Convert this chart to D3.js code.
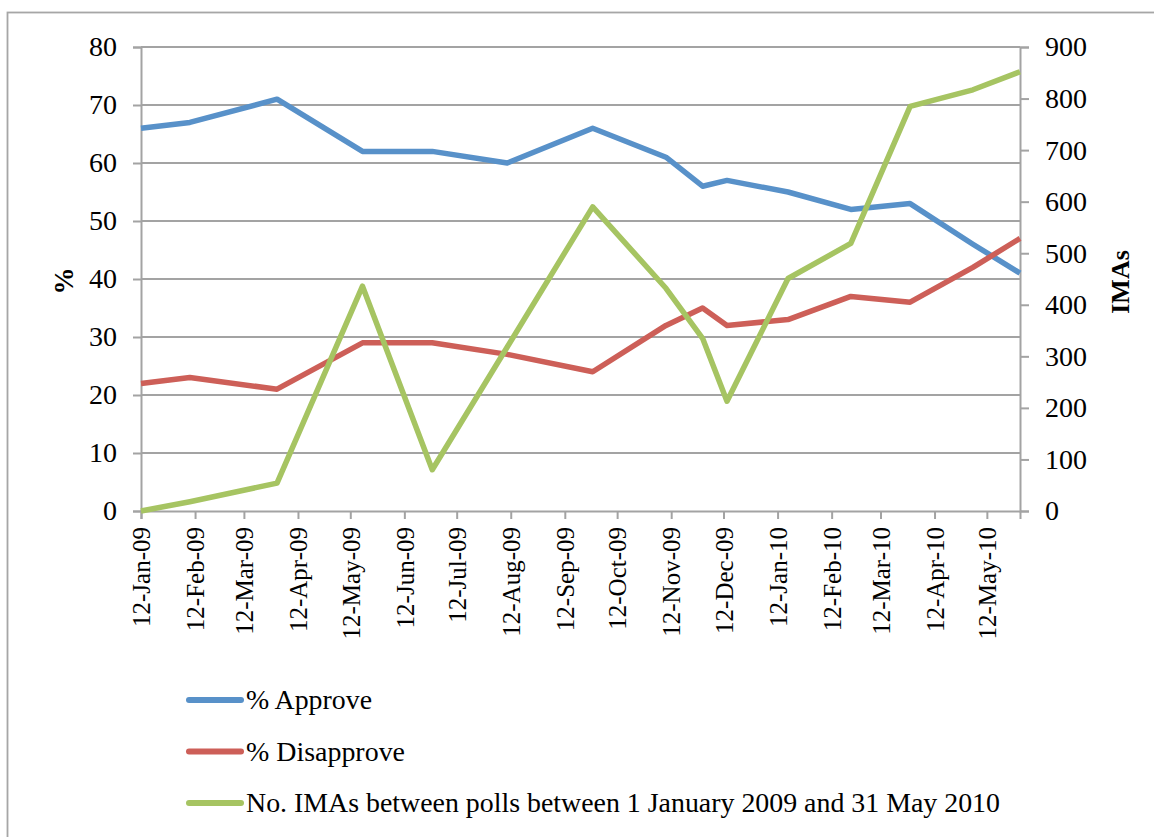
<!DOCTYPE html>
<html>
<head>
<meta charset="utf-8">
<script src="https://cdn.jsdelivr.net/npm/d3@7"></script>
<style>
  html, body { margin: 0; padding: 0; background: #fff; }
  svg { display: block; font-family: "Liberation Serif", "Times New Roman", serif; }
</style>
</head>
<body>
<svg id="chart" width="1154" height="837"></svg>
<script>
// Poll dates (shared by all three series)
const pollDates = [
  "2009-01-12", "2009-02-09", "2009-03-31", "2009-05-19", "2009-06-28",
  "2009-08-10", "2009-09-28", "2009-11-09", "2009-11-30", "2009-12-14",
  "2010-01-18", "2010-02-23", "2010-03-29", "2010-05-04", "2010-05-31"
];
// % approve / % disapprove (left axis)
const approve    = [66, 67, 71, 62, 62, 60, 66, 61, 56, 57, 55, 52, 53, 46, 41];
const disapprove = [22, 23, 21, 29, 29, 27, 24, 32, 35, 32, 33, 37, 36, 42, 47];
// Number of IMAs between polls (right axis)
const imas = [0, 18, 54, 436, 80, 318, 590, 432, 335, 213, 451, 519, 785, 817, 852];

// Axis ticks
const xTickDates = [
  "2009-01-12", "2009-02-12", "2009-03-12", "2009-04-12", "2009-05-12",
  "2009-06-12", "2009-07-12", "2009-08-12", "2009-09-12", "2009-10-12",
  "2009-11-12", "2009-12-12", "2010-01-12", "2010-02-12", "2010-03-12",
  "2010-04-12", "2010-05-12"
];
const leftTicks = [0, 10, 20, 30, 40, 50, 60, 70, 80];
const rightTicks = [0, 100, 200, 300, 400, 500, 600, 700, 800, 900];
const xDomain = ["2009-01-12", "2010-05-31"];

const seriesNames = [
  "% Approve",
  "% Disapprove",
  "No. IMAs between polls between 1 January 2009 and 31 May 2010"
];
const seriesColors = ["#5891c9", "#cd5f58", "#a6c462"];

const parse = d3.utcParse("%Y-%m-%d");
const fmt = d3.utcFormat("%d-%b-%y");

const svg = d3.select("#chart");
const gridColor = "#a3a3a3";

// Outer chart frame
svg.append("rect")
  .attr("x", 7.5).attr("y", 12.5)
  .attr("width", 1160).attr("height", 840)
  .attr("fill", "none").attr("stroke", "#a6a6a6").attr("stroke-width", 1.8);

const plot = { left: 141, right: 1020, top: 47, bottom: 511 };

const x = d3.scaleUtc()
  .domain(xDomain.map(parse))
  .range([plot.left, plot.right]);
const yL = d3.scaleLinear().domain([0, 80]).range([plot.bottom, plot.top]);
const yR = d3.scaleLinear().domain([0, 900]).range([plot.bottom, plot.top]);

// Horizontal gridlines
svg.append("g")
  .selectAll("line")
  .data(leftTicks.filter(d => d > 0))
  .join("line")
  .attr("x1", plot.left).attr("x2", plot.right)
  .attr("y1", d => yL(d)).attr("y2", d => yL(d))
  .attr("stroke", gridColor).attr("stroke-width", 2);

// Left axis
const leftAxis = svg.append("g")
  .attr("transform", `translate(${plot.left},0)`)
  .call(d3.axisLeft(yL).tickValues(leftTicks).tickSize(8).tickPadding(16));
// Right axis
const rightAxis = svg.append("g")
  .attr("transform", `translate(${plot.right},0)`)
  .call(d3.axisRight(yR).tickValues(rightTicks).tickSize(9).tickPadding(16));
// Bottom axis
const bottomAxis = svg.append("g")
  .attr("transform", `translate(0,${plot.bottom})`)
  .call(d3.axisBottom(x).tickValues(xTickDates.map(parse)).tickFormat(fmt).tickSize(8));

[leftAxis, rightAxis, bottomAxis].forEach(g => {
  g.select(".domain").attr("stroke", gridColor).attr("stroke-width", 2);
  g.selectAll(".tick line").attr("stroke", gridColor).attr("stroke-width", 2);
  g.selectAll("text").attr("fill", "#000").attr("font-family", "Liberation Serif, serif");
});
leftAxis.selectAll("text").attr("font-size", 28);
rightAxis.selectAll("text").attr("font-size", 28);
bottomAxis.selectAll("text")
  .attr("font-size", 25)
  .attr("text-anchor", "end")
  .attr("dy", "0.35em")
  .attr("transform", "translate(0,8) rotate(-90)")
  .attr("x", -8).attr("y", 0);

// Axis titles
svg.append("text")
  .attr("transform", `translate(73,${(plot.top + plot.bottom) / 2 + 2}) rotate(-90)`)
  .attr("text-anchor", "middle")
  .attr("font-size", 27).attr("font-weight", "bold")
  .text("%");
svg.append("text")
  .attr("transform", `translate(1129,${(plot.top + plot.bottom) / 2 + 3}) rotate(-90)`)
  .attr("text-anchor", "middle")
  .attr("font-size", 26).attr("font-weight", "bold")
  .text("IMAs");

// Series lines
const pts = pollDates.map(parse);
const series = [
  { values: approve, scale: yL },
  { values: disapprove, scale: yL },
  { values: imas, scale: yR }
];
series.forEach((s, i) => {
  const line = d3.line()
    .x((d, j) => x(pts[j]))
    .y(d => s.scale(d));
  svg.append("path")
    .datum(s.values)
    .attr("d", line)
    .attr("fill", "none")
    .attr("stroke", seriesColors[i])
    .attr("stroke-width", 5.5)
    .attr("stroke-linejoin", "round")
    .attr("stroke-linecap", "butt");
});

// Legend
const legendTextWidths = [126, 159, 754];
const legend = svg.append("g");
seriesNames.forEach((name, i) => {
  const ly = 700 + i * 51.5;
  legend.append("line")
    .attr("x1", 189).attr("x2", 241)
    .attr("y1", ly).attr("y2", ly)
    .attr("stroke", seriesColors[i]).attr("stroke-width", 6)
    .attr("stroke-linecap", "round");
  legend.append("text")
    .attr("x", 246).attr("y", ly + 9)
    .attr("font-size", 28)
    .attr("textLength", legendTextWidths[i])
    .attr("lengthAdjust", "spacingAndGlyphs")
    .text(name);
});
</script>
</body>
</html>
